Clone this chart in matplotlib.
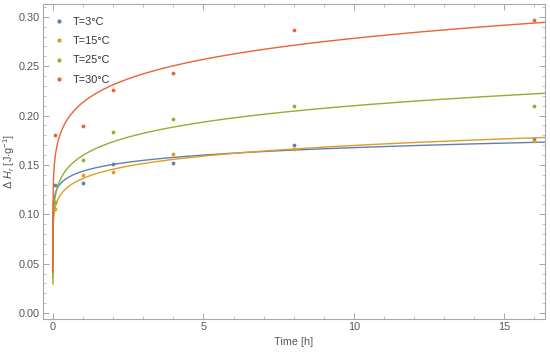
import numpy as np
import matplotlib
matplotlib.use("Agg")
import matplotlib.pyplot as plt
from matplotlib.ticker import MultipleLocator

plt.rcParams['font.family'] = ['Liberation Sans', 'DejaVu Sans']
plt.rcParams['mathtext.fontset'] = 'custom'
plt.rcParams['mathtext.rm'] = 'Liberation Sans'
plt.rcParams['mathtext.it'] = 'Liberation Sans:italic'

# measured points
time_h = [0.083, 1, 2, 4, 8, 16]
dh_3 = [0.130, 0.132, 0.1506, 0.152, 0.1706, 0.1767]
dh_15 = [0.105, 0.1395, 0.143, 0.161, 0.1665, 0.174]
dh_25 = [0.112, 0.155, 0.183, 0.197, 0.210, 0.2094]
dh_30 = [0.180, 0.189, 0.226, 0.243, 0.287, 0.2966]

labels = ["T=3°C", "T=15°C", "T=25°C", "T=30°C"]
colors = ["#5E81B5", "#E19C24", "#8FB032", "#EB6235"]


def fit_power(t, y):
    # y = a * t^b, log-log start then a few Gauss-Newton steps
    t = np.asarray(t, float)
    y = np.asarray(y, float)
    b, la = np.polyfit(np.log(t), np.log(y), 1)
    a = np.exp(la)
    for i in range(50):
        f = a * t**b
        J = np.column_stack([t**b, a * t**b * np.log(t)])
        step = np.linalg.lstsq(J, y - f, rcond=None)[0]
        a += step[0]
        b += step[1]
    return a, b


fig = plt.figure(figsize=(5.5, 3.53), dpi=100)
ax = fig.add_axes([43 / 550, 1 - 319 / 353, 502 / 550, 315 / 353])

tt = np.concatenate([np.logspace(-6.2, -1, 300), np.linspace(0.1, 16.4, 500)])
for y, lab, c in zip([dh_3, dh_15, dh_25, dh_30], labels, colors):
    a, b = fit_power(time_h, y)
    ax.plot(tt, a * tt**b, color=c, lw=1.0)
    ax.plot(time_h, y, "o", ms=1.7, color=c, label=lab, linestyle="none")

ax.set_xlim(-0.33, 16.35)
ax.set_ylim(-0.006, 0.313)
ax.xaxis.set_major_locator(MultipleLocator(5))
ax.xaxis.set_minor_locator(MultipleLocator(1))
ax.yaxis.set_major_locator(MultipleLocator(0.05))
ax.yaxis.set_minor_locator(MultipleLocator(0.01))
ax.yaxis.set_major_formatter(matplotlib.ticker.FormatStrFormatter("%.2f"))

for s in ax.spines.values():
    s.set_color("#a8a8a8")
    s.set_linewidth(0.8)
ax.tick_params(which="both", direction="in", top=True, right=True,
               color="#a8a8a8", labelcolor="#555555", labelsize=7.8, pad=2.5)
ax.tick_params(which="major", length=4, width=0.7)
ax.tick_params(which="minor", length=2, width=0.5)

ax.set_xlabel("Time [h]", color="#555555", fontsize=7.8, labelpad=3)
ax.set_ylabel(r"$\Delta$ $H_r$ [J$\cdot$g$^{-1}$]", color="#555555", fontsize=7.8, labelpad=1)

leg = ax.legend(loc="upper left", bbox_to_anchor=(0.0, 1.0), frameon=False,
                fontsize=7.8, handlelength=0.6, handletextpad=0.9,
                labelspacing=0.85, borderaxespad=0.8, markerscale=1.2)
for t in leg.get_texts():
    t.set_color("#333333")

fig.savefig("out.png", dpi=100)
